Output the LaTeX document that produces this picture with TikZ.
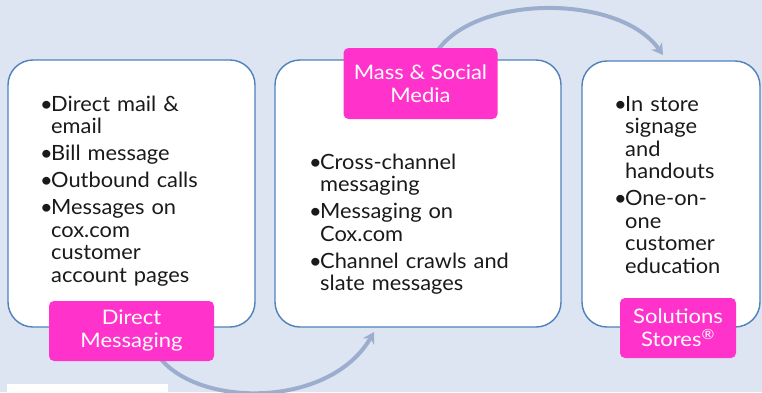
\documentclass[tikz,border=0pt]{standalone}
\usepackage{fontspec}
\setmainfont{Lato}[FakeStretch=1.04]
\newfontfamily\tagfont{Lato}[FakeStretch=1.1]
\usetikzlibrary{arrows.meta}
\definecolor{bg}{HTML}{DCE5F1}
\definecolor{frame}{HTML}{4F81BD}
\definecolor{tag}{HTML}{FF33CC}
\definecolor{flow}{HTML}{9DADCD}
\definecolor{ink}{HTML}{1A1A1A}
% one bulleted entry with a hanging indent; \nl breaks a line inside it
\newcommand\bitem[1]{\par\hangindent=11pt\hangafter=1\noindent\makebox[11pt][l]{\textbullet}#1}
\newcommand\nl{\break}

\begin{document}
\begin{tikzpicture}[x=1pt,y=-1pt,
  panel/.style={draw=frame, line width=1.4pt, fill=white, rounded corners=25pt, inner sep=0pt},
  tagbox/.style={fill=tag, rounded corners=5pt, text=white, align=center,
    font=\tagfont\fontsize{20}{23}\selectfont, inner sep=0pt},
  items/.style={anchor=north west, inner sep=0pt, text width=240pt, align=left, text=ink,
    font=\fontsize{21}{22.5}\selectfont},
  flowarrow/.style={draw=flow, line width=4pt, -{Stealth[length=11pt,width=13pt]}}
]
\useasboundingbox (0,0) rectangle (762,392);
\fill[bg] (0,0) rectangle (762,392);
\fill[white] (7,384) rectangle (168,392);

% connector end points
\coordinate (a1s) at (160,358);
\coordinate (a1e) at (374,332);
\coordinate (a2s) at (438,50);
\coordinate (a2e) at (663,55);

% flow arrows behind the panels
\draw[flowarrow] (a1s) .. controls (200,408) and (330,408) .. (a1e);
\draw[flowarrow] (a2s) .. controls (478,-6) and (620,-6) .. (a2e);

% panels
\node[panel, minimum width=247pt, minimum height=267pt] (p1) at (131.5,193.5) {};
\node[panel, minimum width=286pt, minimum height=267pt] (p2) at (418,193.5) {};
\node[panel, minimum width=178pt, minimum height=266pt] (p3) at (671,194) {};

% bullet lists
\node[items] (t1) at (40,84) {\setlength\parskip{4.5pt}%
  \bitem{Direct mail \&\nl email}
  \bitem{Bill message}
  \bitem{Outbound calls}
  \bitem{Messages on\nl cox.com\nl customer\nl account pages}\par};
\node[items] (t2) at (309,142) {\setlength\parskip{4.5pt}%
  \bitem{Cross-channel\nl messaging}
  \bitem{Messaging on\nl Cox.com}
  \bitem{Channel crawls and\nl slate messages}\par};
\node[items] (t3) at (614,84) {\setlength\parskip{4.5pt}%
  \bitem{In store\nl signage\nl and\nl handouts}
  \bitem{One-on-\nl one\nl customer\nl education}\par};

% stage labels
\node[tagbox, minimum width=165pt, minimum height=60pt] (g1) at (131.5,331) {Direct\\Messaging};
\node[tagbox, minimum width=154pt, minimum height=71pt] (g2) at (420.5,83.5) {Mass \& Social\\Media};
\node[tagbox, minimum width=116pt, minimum height=60pt] (g3) at (678,328) {Solutions\\Stores\textsuperscript{®}};
\end{tikzpicture}
\end{document}
